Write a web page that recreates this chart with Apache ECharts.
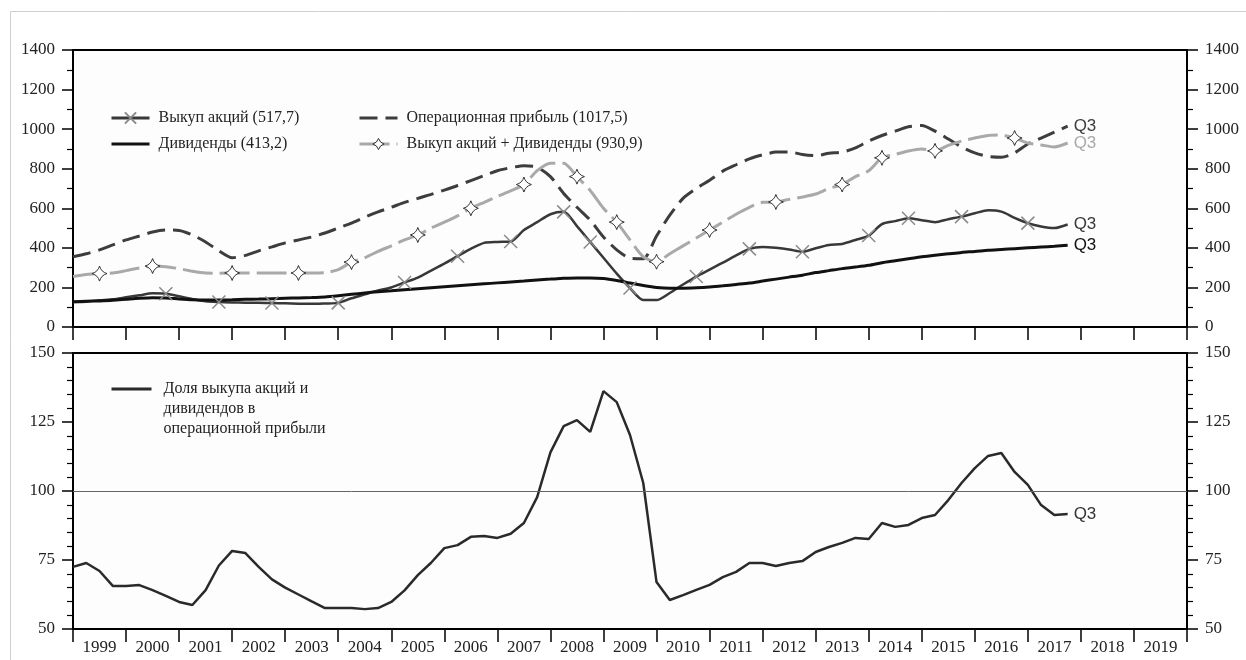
<!DOCTYPE html>
<html>
<head>
<meta charset="utf-8">
<title>Выкуп акций и дивиденды</title>
<script src="https://cdn.jsdelivr.net/npm/echarts@6/dist/echarts.min.js"></script>
<style>
  html, body { margin: 0; padding: 0; background: #fff; }
  #chart { width: 1246px; height: 660px; }
</style>
</head>
<body>
<div id="chart"></div>
<script>
// квартальные ряды: первая точка - начало 1999 г., последняя - 3 кв. 2017 г.
var startYear = 1999;
var years = ['1999', '2000', '2001', '2002', '2003', '2004', '2005', '2006', '2007', '2008', '2009',
  '2010', '2011', '2012', '2013', '2014', '2015', '2016', '2017', '2018', '2019'];

var opProfit = [355, 370, 390, 415, 440, 460, 480, 490, 488, 465, 430, 385, 350, 362, 385, 405,
  425, 440, 455, 475, 500, 525, 555, 582, 605, 630, 650, 670, 692, 715, 740, 765,
  790, 805, 815, 808, 760, 675, 605, 540, 455, 390, 348, 345, 460, 565, 650, 700,
  742, 788, 820, 850, 870, 884, 885, 872, 866, 878, 884, 905, 940, 968, 990, 1012,
  1018, 990, 950, 910, 880, 862, 858, 880, 925, 955, 985, 1015];

var buyDiv = [255, 265, 270, 273, 285, 298, 308, 305, 295, 282, 273, 272, 273, 273, 273, 273,
  273, 273, 273, 275, 290, 328, 350, 382, 410, 440, 465, 500, 530, 562, 600, 630,
  660, 688, 720, 790, 828, 828, 760, 690, 600, 530, 440, 355, 330, 370, 410, 450,
  490, 530, 570, 605, 630, 632, 645, 657, 672, 700, 720, 760, 790, 855, 872, 890,
  900, 890, 918, 940, 955, 968, 970, 955, 930, 920, 910, 930];

var buyback = [126, 128, 135, 140, 150, 160, 170, 168, 155, 142, 130, 126, 124, 123, 122, 121,
  120, 118, 117, 119, 122, 145, 165, 185, 200, 225, 250, 285, 320, 358, 395, 425,
  430, 432, 490, 530, 570, 582, 510, 430, 350, 270, 197, 136, 136, 172, 215, 255,
  290, 325, 362, 395, 404, 400, 392, 380, 398, 414, 420, 440, 462, 520, 535, 550,
  540, 530, 545, 558, 575, 590, 583, 552, 525, 508, 500, 518];

var dividends = [128, 130, 132, 135, 140, 145, 148, 147, 142, 138, 137, 137, 138, 140, 141, 143,
  145, 147, 149, 152, 158, 165, 172, 178, 183, 188, 193, 198, 203, 208, 213, 218,
  223, 228, 233, 238, 242, 246, 248, 248, 245, 235, 222, 210, 200, 196, 196, 198,
  202, 208, 215, 222, 232, 242, 252, 262, 275, 285, 295, 303, 312, 325, 335, 345,
  355, 363, 370, 377, 382, 388, 392, 396, 400, 404, 408, 413];

var payoutShare = [72.5, 73.9, 71, 65.6, 65.6, 65.9, 64.1, 62, 59.8, 58.7, 64.1, 73, 78.3, 77.5, 72.5, 68,
  65, 62.5, 60, 57.6, 57.6, 57.6, 57.2, 57.6, 59.8, 64, 69.5, 74, 79.3, 80.4, 83.4, 83.7,
  83, 84.5, 88.4, 97.8, 114, 123.5, 125.7, 121.4, 136.2, 132.2, 120.3, 102.9, 67, 60.5, 62.3, 64.2,
  66, 68.8, 70.7, 73.9, 73.9, 72.8, 73.9, 74.6, 77.9, 79.7, 81.2, 83, 82.6, 88.4, 87, 87.7,
  90.2, 91.3, 96.7, 102.9, 108.3, 112.7, 113.8, 106.9, 102.2, 94.9, 91.3, 91.7];

var lastLabel = 'Q3';

// на каких кварталах рисуются значки
var buybackMarks = [7, 11, 15, 20, 25, 29, 33, 37, 39, 42, 47, 51, 55, 60, 63, 67, 72];
var buyDivMarks = [2, 6, 12, 17, 21, 26, 30, 34, 38, 41, 44, 48, 53, 58, 61, 65, 71];

function toPoints(arr) {
  return arr.map(function (v, i) { return [startYear + i / 4, v]; });
}

var serif = 'Liberation Serif';
var sans = 'Liberation Sans';
var crossPath = 'path://M-5,-5L5,5M5,-5L-5,5';
var starPath = 'path://M0,-10Q2.2,-2.2 10,0Q2.2,2.2 0,10Q-2.2,2.2 -10,0Q-2.2,-2.2 0,-10Z';
var starStyle = { color: '#fff', borderColor: '#333', borderWidth: 1 };
var noSymbol = { opacity: 0 };

var chart = echarts.init(document.getElementById('chart'));

function yearAxis(grid) {
  return {
    gridIndex: grid, type: 'value', min: 1999, max: 2020, interval: 1,
    axisLine: { lineStyle: { color: '#000', width: 2 } },
    axisTick: { length: 13, lineStyle: { color: '#000', width: 1.5 } },
    axisLabel: { show: false },
    splitLine: { show: false }
  };
}

function valueAxis(grid, pos, min, max, step, minorSplit) {
  return {
    gridIndex: grid, type: 'value', position: pos, min: min, max: max, interval: step,
    axisLine: { show: true, lineStyle: { color: '#000', width: 2 } },
    axisTick: { show: true, length: 11, lineStyle: { color: '#000', width: 1.5 } },
    minorTick: { show: true, splitNumber: minorSplit, length: 6, lineStyle: { color: '#000', width: 1.2 } },
    axisLabel: {
      margin: 18, fontFamily: serif, fontSize: 17, color: '#222',
      formatter: function (v) { return String(v); }
    },
    splitLine: { show: false }
  };
}

function endLabel(color) {
  return { show: true, formatter: lastLabel, color: color, fontFamily: sans, fontSize: 17, distance: 6 };
}

var legendText = { fontFamily: serif, fontSize: 16, color: '#222', padding: [0, 0, 0, 4] };

chart.setOption({
  animation: false,
  backgroundColor: '#fff',
  graphic: [{
    type: 'rect', silent: true,
    shape: { x: 10.5, y: 11.5, width: 1300, height: 700 },
    style: { fill: 'none', stroke: '#cfcfcf', lineWidth: 1 }
  }],
  grid: [
    { left: 73, right: 59, top: 50, height: 277, show: true, backgroundColor: '#fdfdfd', borderColor: '#000', borderWidth: 2 },
    { left: 73, right: 59, top: 353, height: 276, show: true, backgroundColor: '#fdfdfd', borderColor: '#000', borderWidth: 2 }
  ],
  legend: [
    {
      left: 110, top: 110, padding: 0, orient: 'vertical', itemWidth: 38, itemHeight: 14, itemGap: 10,
      selectedMode: false, textStyle: legendText, lineStyle: { width: 3 },
      data: [
        { name: 'Выкуп акций (517,7)' },
        { name: 'Дивиденды (413,2)', itemStyle: noSymbol }
      ]
    },
    {
      left: 358, top: 110, padding: 0, orient: 'vertical', itemWidth: 38, itemHeight: 14, itemGap: 10,
      selectedMode: false, textStyle: legendText, lineStyle: { width: 3 },
      data: [
        { name: 'Операционная прибыль (1017,5)', itemStyle: noSymbol },
        { name: 'Выкуп акций + Дивиденды (930,9)', itemStyle: starStyle }
      ]
    },
    {
      left: 110, top: 339, padding: 0, orient: 'vertical', itemWidth: 40, itemHeight: 14,
      selectedMode: false, lineStyle: { width: 3 },
      textStyle: { fontFamily: serif, fontSize: 16, color: '#222', lineHeight: 20, padding: [0, 0, 0, 7] },
      formatter: function (name) { return '\n\n' + name; },
      data: [{ name: 'Доля выкупа акций и\nдивидендов в\nоперационной прибыли', itemStyle: noSymbol }]
    }
  ],
  xAxis: [
    yearAxis(0),
    yearAxis(1),
    {
      gridIndex: 1, type: 'category', position: 'bottom', data: years, boundaryGap: true,
      axisLine: { show: false }, axisTick: { show: false },
      axisLabel: { interval: 0, margin: 10, fontFamily: serif, fontSize: 17, color: '#222' }
    }
  ],
  yAxis: [
    valueAxis(0, 'left', 0, 1400, 200, 2),
    valueAxis(0, 'right', 0, 1400, 200, 2),
    valueAxis(1, 'left', 50, 150, 25, 5),
    valueAxis(1, 'right', 50, 150, 25, 5)
  ],
  series: [
    {
      name: 'Операционная прибыль (1017,5)', type: 'line', xAxisIndex: 0, yAxisIndex: 0,
      data: toPoints(opProfit), smooth: 0.25, symbol: 'none',
      itemStyle: { color: '#3d3d3d' },
      lineStyle: { color: '#3d3d3d', width: 3, type: [18, 8] },
      endLabel: endLabel('#3d3d3d')
    },
    {
      name: 'Выкуп акций + Дивиденды (930,9)', type: 'line', xAxisIndex: 0, yAxisIndex: 0,
      data: toPoints(buyDiv), smooth: 0.25, symbol: starPath,
      symbolSize: function (v, p) { return buyDivMarks.indexOf(p.dataIndex) >= 0 ? 15 : 0; },
      itemStyle: starStyle,
      lineStyle: { color: '#a9a9a9', width: 3, type: [30, 7] },
      endLabel: endLabel('#a9a9a9')
    },
    {
      name: 'Выкуп акций (517,7)', type: 'line', xAxisIndex: 0, yAxisIndex: 0,
      data: toPoints(buyback), smooth: 0.25, symbol: crossPath,
      symbolSize: function (v, p) { return buybackMarks.indexOf(p.dataIndex) >= 0 ? 13 : 0; },
      itemStyle: { color: 'transparent', borderColor: '#8a8a8a', borderWidth: 1.5 },
      lineStyle: { color: '#383838', width: 2.5 },
      endLabel: endLabel('#383838')
    },
    {
      name: 'Дивиденды (413,2)', type: 'line', xAxisIndex: 0, yAxisIndex: 0,
      data: toPoints(dividends), smooth: 0.25, symbol: 'none',
      itemStyle: { color: '#111' },
      lineStyle: { color: '#111', width: 3 },
      endLabel: endLabel('#111')
    },
    {
      name: 'Доля выкупа акций и\nдивидендов в\nоперационной прибыли', type: 'line', xAxisIndex: 1, yAxisIndex: 2,
      data: toPoints(payoutShare), symbol: 'none',
      itemStyle: { color: '#2a2a2a' },
      lineStyle: { color: '#2a2a2a', width: 2.5 },
      endLabel: endLabel('#333'),
      markLine: {
        silent: true, symbol: ['none', 'none'], label: { show: false },
        lineStyle: { color: '#666', width: 1, type: 'solid' },
        data: [{ yAxis: 100 }]
      }
    }
  ]
});
</script>
</body>
</html>
